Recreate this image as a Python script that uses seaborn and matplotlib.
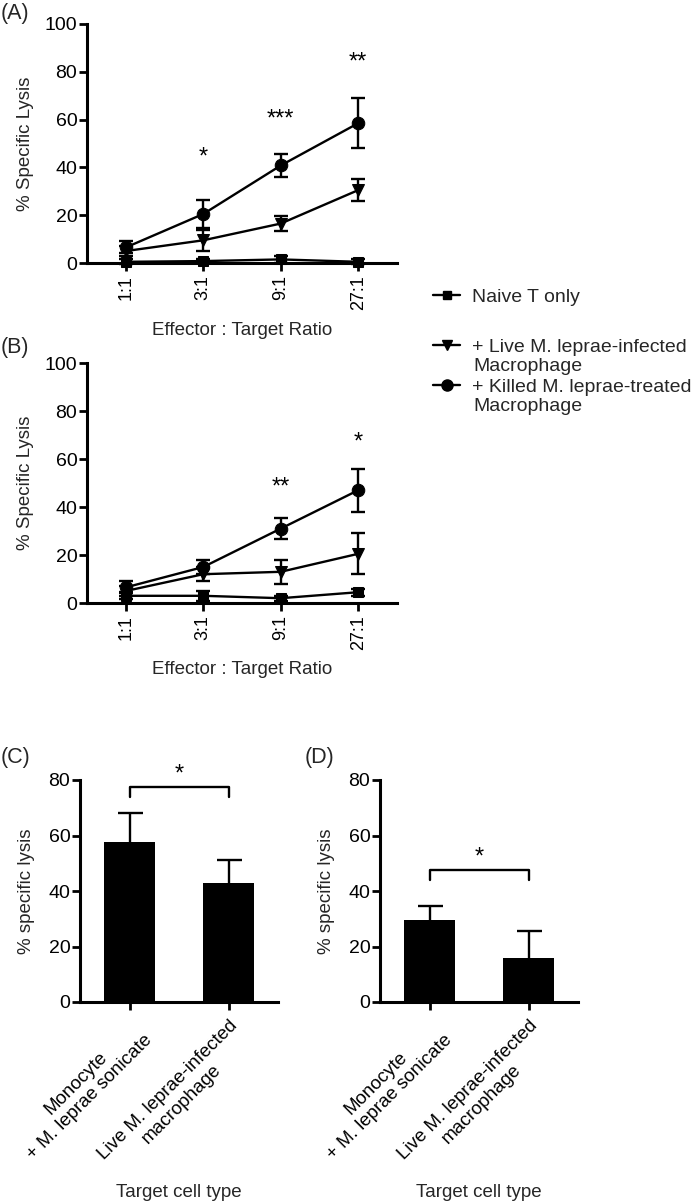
import numpy as np
import pandas as pd
import matplotlib
matplotlib.use("Agg")
import matplotlib.pyplot as plt
from matplotlib.lines import Line2D
import seaborn as sns

# ---------------- data ----------------
ratios = ["1:1", "3:1", "9:1", "27:1"]
groups = ["Naive T only", "+ Live M. leprae-infected", "+ Killed M. leprae-treated"]

naive_A = [0.5, 0.8, 1.5, 0.5]
naive_A_err = [1.0, 1.0, 1.5, 1.0]
live_A = [5.0, 9.5, 16.5, 30.5]
live_A_err = [2.0, 4.5, 3.0, 4.5]
killed_A = [6.5, 20.5, 40.8, 58.5]
killed_A_err = [2.5, 6.0, 4.8, 10.5]
stars_A = ["", "*", "***", "**"]
stars_A_y = [0, 44, 60, 84]

naive_B = [3.0, 3.0, 2.0, 4.5]
naive_B_err = [1.5, 2.0, 1.0, 1.5]
live_B = [5.0, 12.0, 13.0, 20.5]
live_B_err = [2.0, 3.0, 5.0, 8.5]
killed_B = [6.5, 15.0, 31.0, 47.0]
killed_B_err = [2.5, 3.0, 4.3, 9.0]
stars_B = ["", "", "**", "*"]
stars_B_y = [0, 0, 48, 67]

bar_cats = ["Monocyte\n+ M. leprae sonicate", "Live M. leprae-infected\nmacrophage"]
bars_C = [57.5, 42.8]
bars_C_err = [10.5, 8.4]
bracket_C = 77.5
bars_D = [29.5, 16.0]
bars_D_err = [5.1, 9.5]
bracket_D = 47.5

# ---------------- style ----------------
sns.set_theme(style="ticks")
plt.rcParams["font.family"] = ["Liberation Sans", "DejaVu Sans"]
plt.rcParams["axes.linewidth"] = 2.2
plt.rcParams["xtick.major.width"] = 2.0
plt.rcParams["ytick.major.width"] = 2.0
plt.rcParams["xtick.major.size"] = 6
plt.rcParams["ytick.major.size"] = 6
plt.rcParams["xtick.color"] = "black"
plt.rcParams["ytick.color"] = "black"
plt.rcParams["axes.edgecolor"] = "black"

YTICK_FS = 14
XTICK_FS = 13
LABEL_FS = 13.5
LEG_FS = 14
STAR_FS = 17

W, H = 692, 1202
fig = plt.figure(figsize=(W / 100, H / 100), dpi=100)

def fax(l, t, r, b):
    return fig.add_axes([l / W, 1 - b / H, (r - l) / W, (b - t) / H])

axA = fax(87, 24, 397, 263)
axB = fax(87, 363, 397, 603)
axC = fax(80, 780, 278, 1002)
axD = fax(380, 780, 578, 1002)

markers = {"Naive T only": "s", "+ Live M. leprae-infected": "v", "+ Killed M. leprae-treated": "o"}
msizes = {"Naive T only": 7, "+ Live M. leprae-infected": 8.5, "+ Killed M. leprae-treated": 9}


def line_panel(ax, series, errs, stars, stars_y, xlab_y):
    pos = np.arange(len(ratios))
    rows = []
    for g, vals in zip(groups, series):
        for p, v in zip(pos, vals):
            rows.append({"pos": p, "val": v, "group": g})
    df = pd.DataFrame(rows)
    for g, vals, e in zip(groups, series, errs):
        sub = df[df["group"] == g]
        sns.lineplot(data=sub, x="pos", y="val", color="black", lw=1.7,
                     marker=markers[g], markersize=msizes[g], markeredgecolor="black",
                     ax=ax, legend=False, clip_on=False, zorder=3)
        ax.errorbar(pos, vals, yerr=e, fmt="none", ecolor="black", elinewidth=1.7,
                    capsize=5, capthick=1.7, clip_on=False, zorder=3)
    for p, s, y in zip(pos, stars, stars_y):
        if s:
            ax.text(p, y, s, ha="center", va="center", fontsize=STAR_FS, color="black")
    ax.set_xlim(-0.5, 3.5)
    ax.set_ylim(0, 100)
    ax.set_yticks([0, 20, 40, 60, 80, 100])
    ax.set_xticks(pos)
    ax.set_xticklabels(ratios, rotation=90, fontsize=XTICK_FS)
    ax.tick_params(axis="y", labelsize=YTICK_FS, pad=1)
    ax.tick_params(axis="x", pad=3)
    ax.set_xlabel("Effector : Target Ratio", fontsize=LABEL_FS)
    ax.xaxis.set_label_coords(0.5, xlab_y)
    ax.set_ylabel("% Specific Lysis", fontsize=LABEL_FS, labelpad=8)
    sns.despine(ax=ax)


line_panel(axA, [naive_A, live_A, killed_A], [naive_A_err, live_A_err, killed_A_err],
           stars_A, stars_A_y, -0.245)
line_panel(axB, [naive_B, live_B, killed_B], [naive_B_err, live_B_err, killed_B_err],
           stars_B, stars_B_y, -0.24)


def bar_panel(ax, vals, errs, bracket):
    pos = np.arange(len(bar_cats))
    sns.barplot(x=bar_cats, y=vals, color="black", saturation=1, width=0.52,
                errorbar=None, ax=ax, zorder=3, edgecolor="black", linewidth=0)
    _, caps, _ = ax.errorbar(pos, vals, yerr=[np.zeros(len(vals)), errs], fmt="none",
                             ecolor="black", elinewidth=1.7, capsize=9, capthick=1.7, zorder=2)
    caps[0].set_visible(False)
    ax.plot([0, 0, 1, 1], [bracket - 3.5, bracket, bracket, bracket - 3.5], color="black", lw=1.7)
    ax.text(0.5, bracket + 4.5, "*", ha="center", va="center", fontsize=STAR_FS, color="black")
    ax.set_xlim(-0.5, 1.5)
    ax.set_ylim(0, 80)
    ax.set_yticks([0, 20, 40, 60, 80])
    ax.tick_params(axis="y", labelsize=YTICK_FS, pad=1)
    ax.set_xticks(pos)
    ax.set_xticklabels(bar_cats, rotation=45, ha="right", rotation_mode="anchor",
                       fontsize=13.5, multialignment="center")
    ax.tick_params(axis="x", pad=5)
    ax.set_xlabel("Target cell type", fontsize=LABEL_FS)
    ax.xaxis.set_label_coords(0.5, -0.82)
    ax.set_ylabel("% specific lysis", fontsize=LABEL_FS, labelpad=10)
    sns.despine(ax=ax)


bar_panel(axC, bars_C, bars_C_err, bracket_C)
bar_panel(axD, bars_D, bars_D_err, bracket_D)

# ---------------- legend ----------------
leg_rows = [(groups[0], 297, None), (groups[1], 347, "Macrophage"), (groups[2], 387, "Macrophage")]
for g, y, cont in leg_rows:
    h = Line2D([], [], color="black", lw=1.7, marker=markers[g], markersize=msizes[g] - 1)
    fig.legend([h], [g], loc="center left", bbox_to_anchor=(433 / W, 1 - y / H),
               frameon=False, fontsize=LEG_FS, handlelength=1.4, handletextpad=0.6,
               borderpad=0, borderaxespad=0)
    if cont:
        fig.text(473 / W, 1 - (y + 20) / H, cont, fontsize=LEG_FS, ha="left", va="center")

# ---------------- panel letters ----------------
for lab, x, y in [("(A)", 1, 13), ("(B)", 1, 347), ("(C)", 1, 757), ("(D)", 305, 757)]:
    fig.text(x / W, 1 - y / H, lab, fontsize=15.5, ha="left", va="center")

fig.savefig("out.png", dpi=100)
